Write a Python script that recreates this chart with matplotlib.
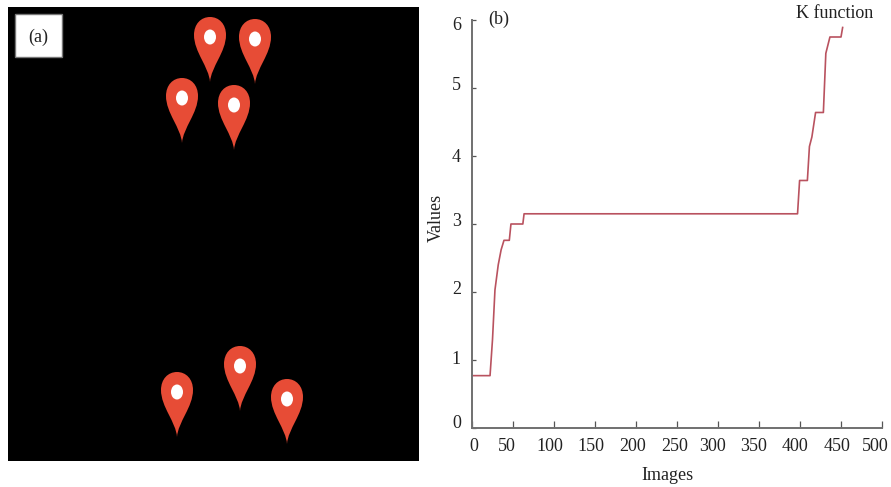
import matplotlib
matplotlib.use('Agg')
import matplotlib.pyplot as plt
from matplotlib.path import Path
from matplotlib.patches import PathPatch, Ellipse, Rectangle
from matplotlib.transforms import ScaledTranslation

plt.rcParams['font.family'] = ['Liberation Serif', 'DejaVu Serif']

# step curve
images = [0, 22, 25, 28, 32, 35.5, 39, 45.5, 47.5, 62, 63.5, 397, 399.5, 409, 411.5,
          414.5, 419, 428.5, 431.5, 434, 436.5, 450, 452]
values = [0.77, 0.77, 1.3, 2.03, 2.4, 2.62, 2.76, 2.76, 3.0, 3.0, 3.15, 3.15, 3.64, 3.64, 4.14,
          4.28, 4.64, 4.64, 5.51, 5.63, 5.75, 5.75, 5.89]
x_ticks = [0, 50, 100, 150, 200, 250, 300, 350, 400, 450, 500]
y_ticks = [0, 1, 2, 3, 4, 5, 6]

# pin positions in panel (a), image pixels (dot centre)
pin_x = [210, 255, 182, 234, 240, 177, 287]
pin_y = [37, 39, 98, 105, 366, 392, 399]

W, H = 891, 487
FS = 13
TXT = '#222222'
fig = plt.figure(figsize=(W / 100, H / 100), dpi=100)


def pin_path(cx, cy):
    verts = [(0, 45), (1, 30), (16, 15), (16, -2), (16, -13), (9, -20), (0, -20),
             (-9, -20), (-16, -13), (-16, -2), (-16, 15), (-1, 30), (0, 45), (0, 45)]
    codes = [Path.MOVETO] + [Path.CURVE4] * 12 + [Path.CLOSEPOLY]
    return Path([(cx + a, cy + b) for a, b in verts], codes)


def nudge(label, dx, dy):
    # shift a tick label by some pixels, the labels in the source sit a bit off their ticks
    label.set_transform(label.get_transform() + ScaledTranslation(dx / 100, dy / 100, fig.dpi_scale_trans))


# panel a
ax1 = fig.add_axes([8 / W, 1 - 461 / H, 411 / W, 454 / H])
ax1.set_xlim(8, 419)
ax1.set_ylim(461, 7)
ax1.set_facecolor('black')
ax1.set_xticks([])
ax1.set_yticks([])
for s in ax1.spines.values():
    s.set_visible(False)
ax1.add_patch(Rectangle((15, 14), 47, 43, fc='white', ec='#777777', lw=1))
ax1.text(38.5, 37, '(a)', ha='center', va='center', fontsize=FS, color=TXT)
for x, y in zip(pin_x, pin_y):
    ax1.add_patch(PathPatch(pin_path(x, y), fc='#e74c36', ec='none'))
    ax1.add_patch(Ellipse((x, y), 12, 15, fc='white', ec='none'))

# panel b
ax2 = fig.add_axes([472 / W, 1 - 428 / H, 410 / W, 408 / H])
ax2.plot(images, values, color='#b9525f', lw=1.2)
ax2.set_xlim(0, 500)
ax2.set_ylim(0, 6)
ax2.set_xticks(x_ticks)
ax2.set_yticks(y_ticks)
ax2.spines['top'].set_visible(False)
ax2.spines['right'].set_visible(False)
ax2.spines['left'].set_color('#707070')
ax2.spines['bottom'].set_color('#707070')
ax2.spines['left'].set_linewidth(1.4)
ax2.spines['bottom'].set_linewidth(1.4)
ax2.tick_params(axis='x', direction='in', length=5, width=0.9, color='#555555', labelsize=FS, pad=7, labelcolor=TXT)
ax2.tick_params(axis='y', direction='in', length=3, width=0.9, color='#555555', labelsize=FS, pad=8, labelcolor=TXT)
ax2.patch.set_alpha(0)

x_nudge = [2, -6, -4, -4, -3, -2, -6, -5, -5, -4, -7]
y_nudge = [6, 2, 5, 4, 0, 4, -3]
for lab, dx in zip(ax2.get_xticklabels(), x_nudge):
    nudge(lab, dx, 0)
for lab, dy in zip(ax2.get_yticklabels(), y_nudge):
    nudge(lab, 0, dy)

# axis titles and panel marks, placed by hand like in the source figure
fig.text(667 / W, 1 - 475 / H, 'Images', ha='center', va='center', fontsize=FS, color=TXT)
fig.text(436 / W, 1 - 218 / H, 'Values', ha='center', va='center', rotation=90, fontsize=FS, color=TXT)
fig.text(499 / W, 1 - 19 / H, '(b)', ha='center', va='center', fontsize=FS, color=TXT)
fig.text(835 / W, 1 - 13 / H, 'K function', ha='center', va='center', fontsize=FS, color=TXT)

fig.savefig('out.png', dpi=100)
